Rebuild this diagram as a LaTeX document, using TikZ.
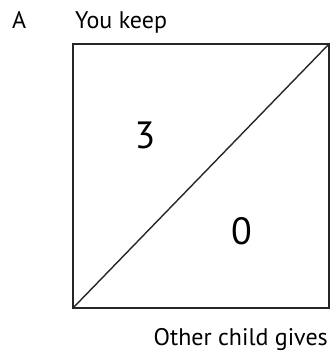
\documentclass[tikz,border=0pt]{standalone}
\usepackage{fontspec}
\setmainfont{PT Sans}
\begin{document}
\begin{tikzpicture}[x=1pt,y=-1pt,
  lbl/.style={inner sep=0pt,font=\fontsize{24}{26}\selectfont},
  num/.style={inner sep=0pt,font=\fontsize{38}{40}\selectfont},
  edge/.style={draw=black!85,line width=1.6pt}]
\useasboundingbox (0,0) rectangle (336,360);
\coordinate (bl) at (73,308);
\coordinate (tr) at (329,44);
\draw[edge] (bl) rectangle (tr);
\draw[edge,line width=1.4pt] (bl) -- (tr);
\node[lbl,anchor=base west] (A) at (12,28) {A};
\node[lbl,anchor=base west] (keep) at (75,28) {You keep};
\node[lbl,anchor=base east] (gives) at (328,345) {Other child gives};
\node[num] (three) at (145,135) {3};
\node[num] (zero) at (241.5,231) {0};
\end{tikzpicture}
\end{document}
